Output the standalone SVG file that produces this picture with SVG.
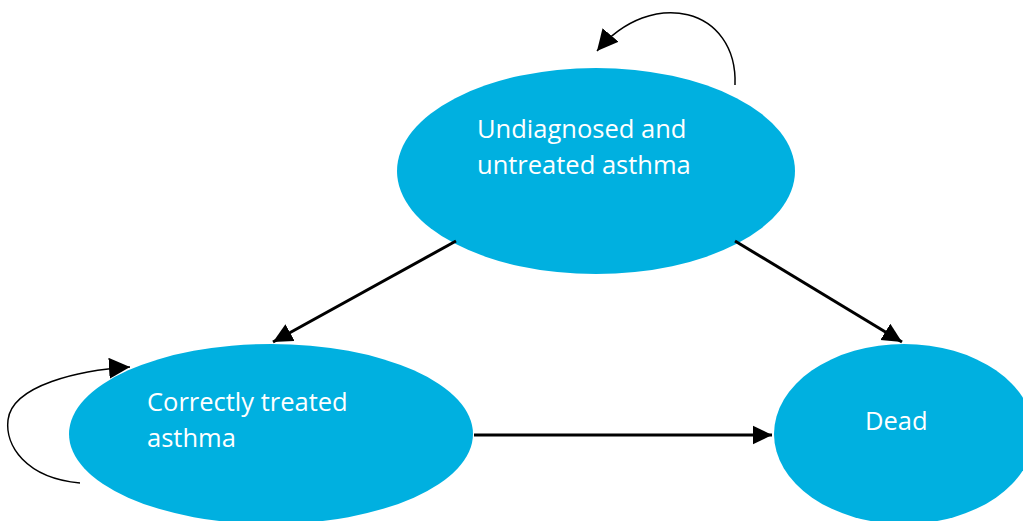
<svg xmlns="http://www.w3.org/2000/svg" width="1023" height="521" viewBox="0 0 1023 521">
<style>
.node{fill:#00B0E0;}
.lbl{font-family:"Open Sans","Noto Sans",sans-serif;font-size:25.5px;fill:#ffffff;}
.thick{stroke:#000;stroke-width:3;fill:none;}
.thin{stroke:#000;stroke-width:1.5;fill:none;}
</style>
<defs>
<marker id="ah" markerWidth="8" markerHeight="8" refX="6.5" refY="3.2" orient="auto" markerUnits="strokeWidth"><path d="M0,0 L6.5,3.2 L0,6.4 Z" fill="#000"/></marker>
<marker id="ah2" markerWidth="16" markerHeight="16" refX="14" refY="7" orient="auto" markerUnits="strokeWidth"><path d="M0,0 L14,7 L0,14 Z" fill="#000"/></marker>
</defs>
<g id="node-undiagnosed">
<ellipse class="node" cx="596" cy="171" rx="199" ry="103"/>
<text class="lbl" x="477" y="138">Undiagnosed and</text>
<text class="lbl" x="477" y="174">untreated asthma</text>
</g>
<g id="node-treated">
<ellipse class="node" cx="271" cy="434" rx="202" ry="90"/>
<text class="lbl" x="147" y="411">Correctly treated</text>
<text class="lbl" x="147" y="447">asthma</text>
</g>
<g id="node-dead">
<ellipse class="node" cx="904" cy="434" rx="130" ry="90"/>
<text class="lbl" x="865" y="430">Dead</text>
</g>
<g id="connectors">
<line class="thick" x1="456" y1="241" x2="273" y2="342" marker-end="url(#ah)"/>
<line class="thick" x1="735" y1="241" x2="902" y2="342" marker-end="url(#ah)"/>
<line class="thick" x1="474" y1="435" x2="772" y2="435" marker-end="url(#ah)"/>
<path class="thin" d="M735,85 C738,8 652,-14 597,51" marker-end="url(#ah2)"/>
<path class="thin" d="M80,483 C25,478 5,445 8,420 C12,385 80,370 130,367" marker-end="url(#ah2)"/>
</g>
</svg>
